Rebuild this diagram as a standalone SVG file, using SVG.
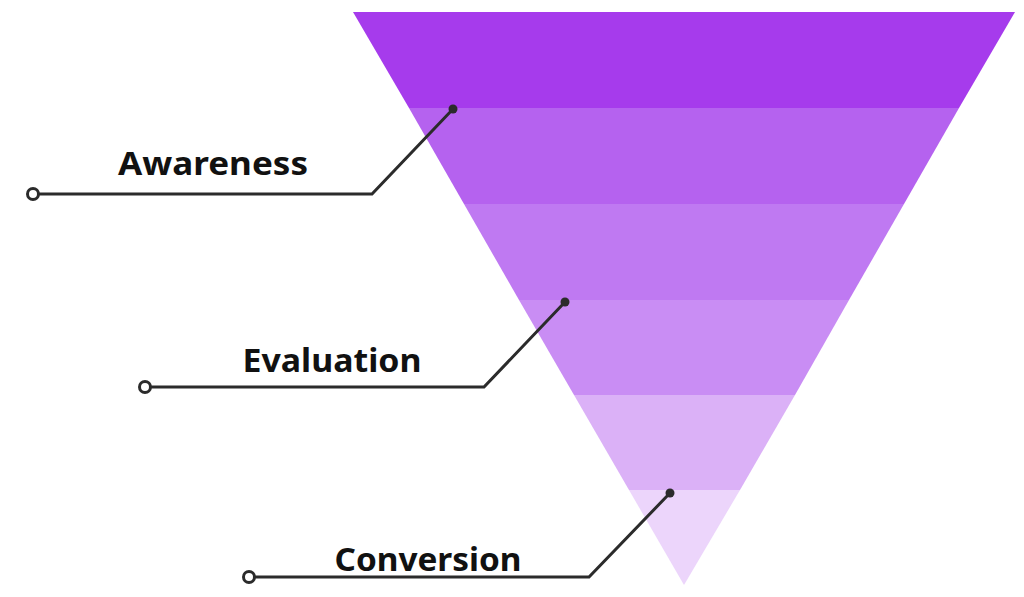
<svg xmlns="http://www.w3.org/2000/svg" width="1024" height="597" viewBox="0 0 1024 597">
<style>
.lbl{font-family:"Noto Sans","Liberation Sans",sans-serif;font-weight:700;font-size:33px;fill:#111;text-anchor:middle}
.ln{fill:none;stroke:#2b2b2b;stroke-width:3;stroke-linejoin:miter}
.open{fill:#fff;stroke:#2b2b2b;stroke-width:3}
.dot{fill:#2b2b2b}
</style>
<rect width="1024" height="597" fill="#fff"/>
<g id="funnel">
<polygon points="353,12 1015,12 959,108 409,108" fill="#a63bec"/>
<polygon points="409,108 959,108 904,204 464,204" fill="#b562ef"/>
<polygon points="464,204 904,204 849,300 519,300" fill="#bf79f2"/>
<polygon points="519,300 849,300 795,395 574,395" fill="#c98df4"/>
<polygon points="574,395 795,395 740,490 629,490" fill="#dbb1f7"/>
<polygon points="629,490 740,490 684,585" fill="#ecd5fb"/>
</g>
<g id="connectors">
<polyline class="ln" points="453,109 372,194 33,194"/>
<polyline class="ln" points="565,302 484,387 145,387"/>
<polyline class="ln" points="670,493 589,577 249,577"/>
</g>
<g id="awareness">
<circle class="dot" cx="453" cy="109" r="4.5"/>
<circle class="open" cx="33" cy="194" r="5.5"/>
<text class="lbl" x="213" y="175" textLength="190" lengthAdjust="spacingAndGlyphs">Awareness</text>
</g>
<g id="evaluation">
<circle class="dot" cx="565" cy="302" r="4.5"/>
<circle class="open" cx="145" cy="387" r="5.5"/>
<text class="lbl" x="332" y="372" textLength="179" lengthAdjust="spacingAndGlyphs">Evaluation</text>
</g>
<g id="conversion">
<circle class="dot" cx="670" cy="493" r="4.5"/>
<circle class="open" cx="249" cy="577" r="5.5"/>
<text class="lbl" x="428" y="571" textLength="187" lengthAdjust="spacingAndGlyphs">Conversion</text>
</g>
</svg>
